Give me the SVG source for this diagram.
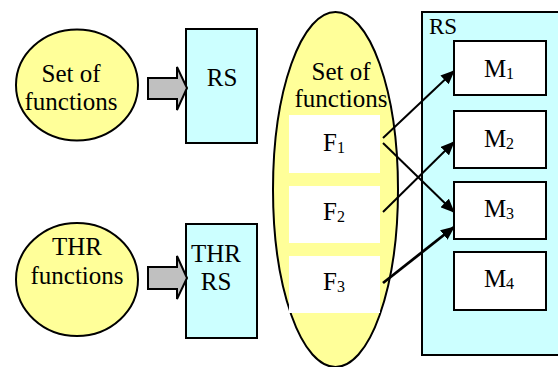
<svg xmlns="http://www.w3.org/2000/svg" width="558" height="367" viewBox="0 0 558 367">
<defs>
<marker id="ah" viewBox="0 0 14 12" refX="13" refY="6" markerWidth="14" markerHeight="12" markerUnits="userSpaceOnUse" orient="auto">
<path d="M0,0 L14,6 L0,12 z" fill="#000"/>
</marker>
</defs>
<style>
.sub{font-size:16px}
.yel{fill:#FFFF99;stroke:#000;stroke-width:2}
.cyan{fill:#CCFFFF;stroke:#000;stroke-width:2}
.wbox{fill:#FFFFFF;stroke:#000;stroke-width:2}
.white{fill:#FFFFFF;stroke:none}
.fat{fill:#C0C0C0;stroke:#000;stroke-width:2;stroke-linejoin:miter}
.conn line{stroke:#000;stroke-width:2;marker-end:url(#ah)}
</style>
<g id="set1">
<ellipse class="yel" cx="77" cy="85" rx="61" ry="55.5"/>
<text x="71" y="82" text-anchor="middle" font-family="Liberation Serif" font-size="25" style="font-family:'Liberation Serif',serif">Set of</text>
<text x="71" y="110" text-anchor="middle" font-family="Liberation Serif" font-size="25" style="font-family:'Liberation Serif',serif">functions</text>
</g>
<g id="rs1">
<rect class="cyan" x="186" y="29" width="71" height="114"/>
<text x="222" y="86" text-anchor="middle" font-family="Liberation Serif" font-size="25" style="font-family:'Liberation Serif',serif">RS</text>
</g>
<g id="thr">
<ellipse class="yel" cx="77" cy="279.5" rx="61" ry="56.5"/>
<text x="77" y="255" text-anchor="middle" font-family="Liberation Serif" font-size="25" style="font-family:'Liberation Serif',serif">THR</text>
<text x="77" y="284" text-anchor="middle" font-family="Liberation Serif" font-size="25" style="font-family:'Liberation Serif',serif">functions</text>
</g>
<g id="thrrs">
<rect class="cyan" x="186" y="224" width="71" height="114"/>
<text x="216" y="262" text-anchor="middle" font-family="Liberation Serif" font-size="25" style="font-family:'Liberation Serif',serif">THR</text>
<text x="216" y="290" text-anchor="middle" font-family="Liberation Serif" font-size="25" style="font-family:'Liberation Serif',serif">RS</text>
</g>
<g id="bigset">
<ellipse class="yel" cx="335.5" cy="189.5" rx="62.5" ry="177.5"/>
<text x="341" y="80" text-anchor="middle" font-family="Liberation Serif" font-size="25" style="font-family:'Liberation Serif',serif">Set of</text>
<text x="341" y="107" text-anchor="middle" font-family="Liberation Serif" font-size="25" style="font-family:'Liberation Serif',serif">functions</text>
</g>
<g id="f1">
<rect class="white" x="289" y="115" width="91" height="58"/>
<text x="334" y="151" text-anchor="middle" font-family="Liberation Serif" font-size="25" style="font-family:'Liberation Serif',serif">F<tspan class="sub" dy="2">1</tspan></text>
</g>
<g id="f2">
<rect class="white" x="289" y="186" width="91" height="57"/>
<text x="334" y="220" text-anchor="middle" font-family="Liberation Serif" font-size="25" style="font-family:'Liberation Serif',serif">F<tspan class="sub" dy="2">2</tspan></text>
</g>
<g id="f3">
<rect class="white" x="289" y="256" width="91" height="57"/>
<text x="334" y="290" text-anchor="middle" font-family="Liberation Serif" font-size="25" style="font-family:'Liberation Serif',serif">F<tspan class="sub" dy="2">3</tspan></text>
</g>
<g id="rsbig">
<rect class="cyan" x="422" y="12" width="140" height="343"/>
<text x="429" y="34" font-family="Liberation Serif" font-size="23" style="font-family:'Liberation Serif',serif">RS</text>
</g>
<g id="m1">
<rect class="wbox" x="454" y="41" width="92" height="54"/>
<text x="499" y="77" text-anchor="middle" font-family="Liberation Serif" font-size="25" style="font-family:'Liberation Serif',serif">M<tspan class="sub" dy="2">1</tspan></text>
</g>
<g id="m2">
<rect class="wbox" x="454" y="111" width="92" height="57"/>
<text x="499" y="147" text-anchor="middle" font-family="Liberation Serif" font-size="25" style="font-family:'Liberation Serif',serif">M<tspan class="sub" dy="2">2</tspan></text>
</g>
<g id="m3">
<rect class="wbox" x="454" y="182" width="92" height="57"/>
<text x="499" y="217" text-anchor="middle" font-family="Liberation Serif" font-size="25" style="font-family:'Liberation Serif',serif">M<tspan class="sub" dy="2">3</tspan></text>
</g>
<g id="m4">
<rect class="wbox" x="454" y="252" width="92" height="58"/>
<text x="499" y="287" text-anchor="middle" font-family="Liberation Serif" font-size="25" style="font-family:'Liberation Serif',serif">M<tspan class="sub" dy="2">4</tspan></text>
</g>
<g id="connectors" class="conn">
<polygon class="fat" points="148,78 177,78 177,67 187,88 177,110 177,99 148,99"/>
<polygon class="fat" points="148,267 177,267 177,256 187,278 177,299 177,289 148,289"/>
<line x1="383" y1="138" x2="454" y2="71"/>
<line x1="383" y1="143" x2="454" y2="212"/>
<line x1="383" y1="212" x2="454" y2="142"/>
<line x1="383" y1="283" x2="454" y2="227" style="stroke-width:2.8"/>
</g>
</svg>
